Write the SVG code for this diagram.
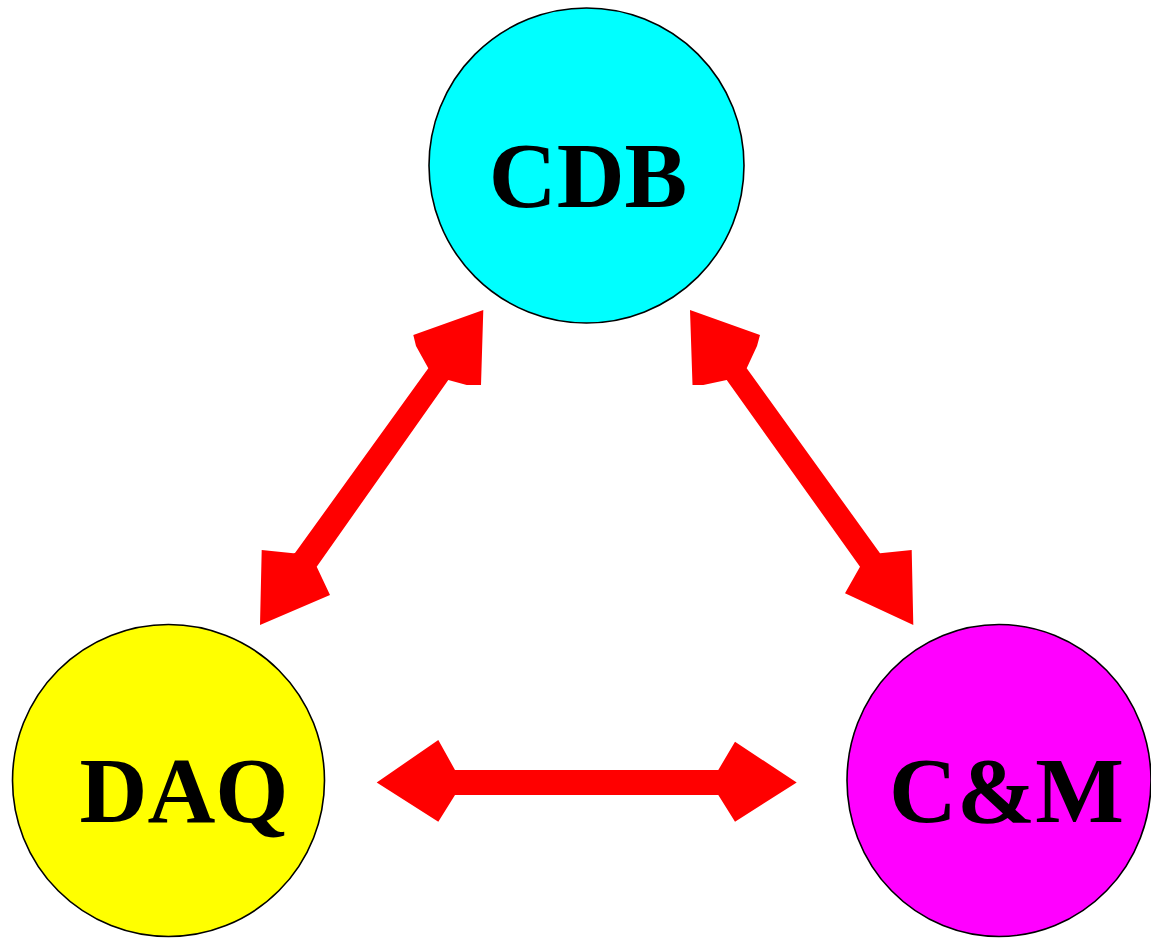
<svg xmlns="http://www.w3.org/2000/svg" width="1151" height="939" viewBox="0 0 1151 939">
<style>
.node{stroke:#000;stroke-width:1.6}
.lbl{font-family:"Liberation Serif","Times New Roman",serif;font-weight:bold;font-size:94px;fill:#000;text-anchor:middle}
.arrow{fill:#FF0000;stroke:none}
</style>
<rect width="1151" height="939" fill="#fff"/>
<g id="connectors">
<polygon class="arrow" points="483.3,310 413.3,335 416,346 428.3,368.3 295,553 293.3,553.3 261.7,550 260,625 330,595 316.7,566.7 448.3,380 466.7,385 481,385"/>
<polygon class="arrow" points="690,310 760,335 757,346 746.7,368.3 880,553.3 911.7,550 913.3,625 845,593.3 860,566.7 726.7,380 703.3,385 692.5,385"/>
<polygon class="arrow" points="376.7,782.5 438.3,740 455,770 718.3,770 735,741.7 796.7,782.5 735,821.7 718.3,795 455,795 438.3,821.7"/>
</g>
<g id="node-cdb">
<circle class="node" cx="586.5" cy="165.5" r="157.5" fill="#00FFFF"/>
<text class="lbl" x="588" y="207">CDB</text>
</g>
<g id="node-daq">
<circle class="node" cx="168.5" cy="780.5" r="156" fill="#FFFF00"/>
<text class="lbl" x="184" y="822">DAQ</text>
</g>
<g id="node-cm">
<ellipse class="node" cx="999" cy="780.5" rx="152" ry="156" fill="#FF00FF"/>
<text class="lbl" x="1006.5" y="822">C&amp;M</text>
</g>
</svg>
